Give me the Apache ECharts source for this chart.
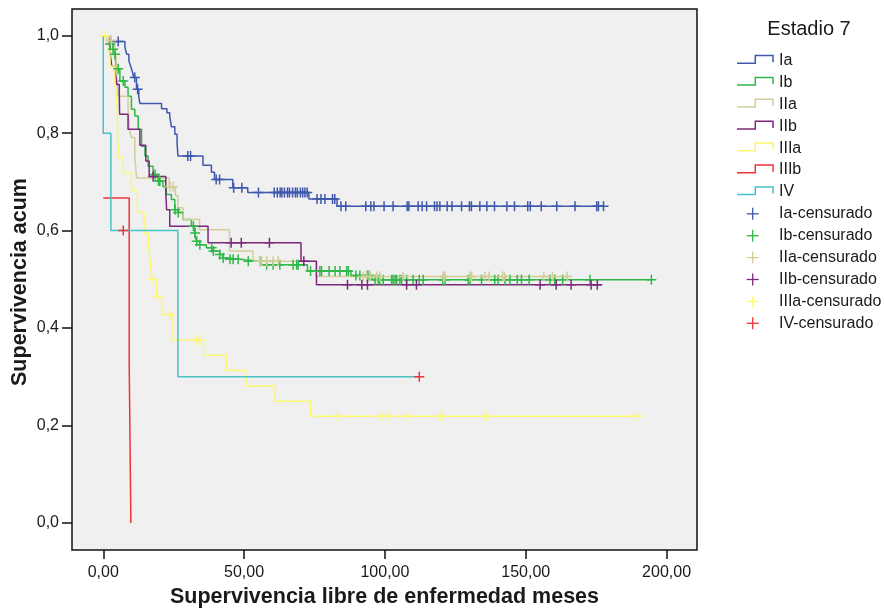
<!DOCTYPE html>
<html>
<head>
<meta charset="utf-8">
<title>Supervivencia libre de enfermedad por estadio</title>
<script src="https://cdn.jsdelivr.net/npm/echarts@6/dist/echarts.min.js"></script>
<style>
  html, body { margin: 0; padding: 0; background: #ffffff; }
  #chart { width: 885px; height: 616px; }
</style>
</head>
<body>
<div id="chart"></div>
<script>
// Kaplan-Meier curves, one per stage: [time in months, cumulative survival after the event]
const stages = ['Ia', 'Ib', 'IIa', 'IIb', 'IIIa', 'IIIb', 'IV'];

const iaSteps = [[0, 1], [2.5, 0.988], [7.7, 0.976], [8.3, 0.962], [9.1, 0.948], [9.7, 0.938],
  [10.4, 0.925], [10.8, 0.914], [11.8, 0.89], [12.6, 0.876], [13, 0.861], [20.7, 0.85],
  [22.6, 0.842], [23.6, 0.834], [24.2, 0.813], [25.4, 0.798], [26.2, 0.78], [26.5, 0.753],
  [35.4, 0.734], [38.4, 0.72], [39.5, 0.705], [46, 0.688], [51.3, 0.678], [73, 0.665], [83, 0.65]];
const iaEnd = 177.6;
const iaCensored = [5.3, 11.2, 12.2, 30, 31, 40.1, 41.3, 46.3, 49.2, 55.1, 60.7, 61.8, 62.8, 63.4,
  64.3, 65.4, 66.1, 67.2, 68.2, 68.9, 70, 70.8, 71.6, 72.4, 75.9, 77.3, 78.7, 81.4, 82.2, 84.4,
  86.1, 93.2, 95, 96.1, 99.7, 102.9, 107.9, 108.5, 111.8, 113.2, 114.8, 117.6, 118.5, 119.5,
  122.1, 123.8, 127.2, 130, 130.7, 133.7, 136.2, 138.9, 143.3, 146, 150.7, 151.6, 155.5, 161,
  167.5, 175.2, 175.8, 177.6];

const ibSteps = [[0, 1], [2.4, 0.983], [3.5, 0.972], [4.1, 0.962], [4.7, 0.932], [5.9, 0.907],
  [7.7, 0.894], [8.8, 0.876], [10, 0.849], [11.2, 0.835], [12.4, 0.808], [13.6, 0.773],
  [14.8, 0.753], [15.9, 0.732], [17.7, 0.715], [19.5, 0.702], [21.2, 0.69], [22.4, 0.674],
  [24.2, 0.664], [25.4, 0.643], [26.5, 0.637], [28.3, 0.623], [31.3, 0.609], [32.4, 0.595],
  [33, 0.578], [34.2, 0.571], [36.6, 0.565], [38.9, 0.558], [41.3, 0.551], [42.5, 0.544],
  [44.8, 0.541], [48.4, 0.537], [56, 0.53], [72.5, 0.517], [87.9, 0.508], [95.5, 0.499]];
const ibEnd = 194.6;
const ibCensored = [2.4, 3.5, 4.2, 5.3, 7.1, 18.4, 19.6, 20.1, 25.5, 26.6, 32, 32.6, 33.2, 34.3,
  38.5, 39.1, 41.4, 42.6, 45, 46.1, 47.9, 51.5, 55.6, 58, 60.3, 62.7, 67.4, 68.7, 69.2, 73.6,
  76.9, 77.5, 80.2, 82.3, 84, 86.4, 87, 89.7, 91.1, 93.7, 94.4, 96.5, 97.6, 98.2, 99.4, 102.4,
  102.9, 103.6, 104.2, 105.3, 105.9, 107.7, 110, 112.2, 113.6, 120.5, 121.3, 129.6, 130.2,
  134.3, 139, 140.2, 142.6, 144.4, 147, 148.5, 151.2, 158.6, 160.3, 163.1, 172.8, 194.6];

const iiaSteps = [[0, 1], [2.5, 0.99], [4.1, 0.983], [4.6, 0.95], [5, 0.9], [5.3, 0.876],
  [8.8, 0.849], [9.4, 0.804], [10, 0.791], [11.2, 0.753], [11.8, 0.708], [23.4, 0.69],
  [25.6, 0.672], [26.5, 0.647], [28.3, 0.623], [34.2, 0.602], [44.8, 0.558], [53.1, 0.537],
  [75.5, 0.506]];
const iiaEnd = 165.7;
const iiaCensored = [2.8, 23.7, 24.8, 55.6, 56.2, 58, 60.3, 62.1, 92.3, 93.5, 94.7, 97.1, 98.2,
  106.5, 120.7, 121.3, 130.2, 130.8, 135.5, 137, 141.8, 142.4, 156.4, 159.5, 164.7];

const iibSteps = [[0, 1], [1.5, 0.982], [2.4, 0.965], [3, 0.938], [4.1, 0.931], [4.8, 0.9],
  [5.7, 0.876], [5.8, 0.839], [8.8, 0.808], [13, 0.775], [15.1, 0.743], [16.3, 0.711],
  [22.2, 0.677], [22.5, 0.643], [23.6, 0.609], [37.2, 0.575], [70.2, 0.537], [75.7, 0.489]];
const iibEnd = 176.9;
const iibCensored = [17.7, 45.4, 49, 59, 71.2, 86.7, 91.8, 93.8, 107.7, 111.2, 155.1, 160.8,
  166.1, 173.2, 175.4];

const iiiaSteps = [[0, 1], [1.5, 0.969], [2.4, 0.938], [4.1, 0.906], [4.7, 0.875], [5, 0.844],
  [5.1, 0.813], [5.2, 0.781], [5.3, 0.75], [7.1, 0.719], [10, 0.683], [12.1, 0.637],
  [14.5, 0.594], [16.1, 0.566], [16.8, 0.53], [17.3, 0.5], [18.9, 0.465], [20.8, 0.428],
  [24.4, 0.375], [35.6, 0.344], [43.7, 0.313], [50.7, 0.281], [61, 0.25], [73.6, 0.219]];
const iiiaEnd = 190.9;
const iiiaCensored = [0.6, 17.7, 19.2, 23.6, 33, 34.2, 83.2, 98.9, 101.5, 107.4, 119.7, 136, 189.6];

const iiibSteps = [[0, 0.667], [9.2, 0.333], [9.8, 0]];
const iiibEnd = null;
const iiibCensored = [];

const ivSteps = [[0, 1], [0, 0.8], [2.7, 0.6], [26.5, 0.3]];
const ivEnd = 112.2;
const ivCensored = [7.1, 112.2];

// Axis ticks
const xTicks = [0, 50, 100, 150, 200];
const yTicks = [0, 0.2, 0.4, 0.6, 0.8, 1.0];

// Titles and legend labels
const xTitle = 'Supervivencia libre de enfermedad meses';
const yTitle = 'Supervivencia acum';
const legendTitle = 'Estadio 7';
const censoredLabels = ['Ia-censurado', 'Ib-censurado', 'IIa-censurado', 'IIb-censurado',
  'IIIa-censurado', 'IV-censurado'];

// ---- styling ----
const lineColors = ['#3E58AC', '#2EB848', '#D3CE97', '#7C287D', '#FBF873', '#EF3338', '#48C2C5'];
const censorColors = ['#3E58AC', '#2EB848', '#D3CE97', '#7C287D', '#FBF873', '#EF3338'];
const FONT = '"Liberation Sans", Arial, sans-serif';

const curves = [
  { steps: iaSteps, end: iaEnd, cens: iaCensored },
  { steps: ibSteps, end: ibEnd, cens: ibCensored },
  { steps: iiaSteps, end: iiaEnd, cens: iiaCensored },
  { steps: iibSteps, end: iibEnd, cens: iibCensored },
  { steps: iiiaSteps, end: iiiaEnd, cens: iiiaCensored },
  { steps: iiibSteps, end: iiibEnd, cens: iiibCensored },
  { steps: ivSteps, end: ivEnd, cens: ivCensored }
];
// censored groups in legend order -> curve index
const censoredCurve = [0, 1, 2, 3, 4, 6];

function survivalAt(steps, t) {
  let s = steps[0][1];
  for (const p of steps) { if (p[0] <= t) s = p[1]; else break; }
  return s;
}

const plusSymbol = 'path://M0,4.25H10V5.75H0Z M4.25,0H5.75V10H4.25Z';

const series = [];
curves.forEach((c, i) => {
  const data = c.steps.slice();
  if (c.end !== null) data.push([c.end, c.steps[c.steps.length - 1][1]]);
  series.push({
    name: stages[i], type: 'line', step: 'end', data: data,
    showSymbol: false, symbol: 'none', animation: false, silent: true,
    lineStyle: { color: lineColors[i], width: 1.5 }, z: 2 + i * 0.01
  });
});
censoredCurve.forEach((ci, k) => {
  const c = curves[ci];
  series.push({
    name: censoredLabels[k], type: 'scatter', animation: false, silent: true,
    symbol: plusSymbol, symbolSize: 10,
    itemStyle: { color: censorColors[k], opacity: 1 },
    data: c.cens.map(t => [t, survivalAt(c.steps, t)]), z: 3
  });
});

// Legend and vertical axis title drawn as graphics
const graphics = [];
graphics.push({
  type: 'text', x: 20, y: 282, rotation: Math.PI / 2, silent: true,
  style: { text: yTitle, font: 'bold 21.5px ' + FONT, fill: '#1a1a1a', textAlign: 'center', textVerticalAlign: 'middle' }
});
const legX = 737, legTextX = 779, legY0 = 60.5, legGap = 21.9;
graphics.push({
  type: 'text', x: 809, y: 29.5, silent: true,
  style: { text: legendTitle, font: '20px ' + FONT, fill: '#1a1a1a', textAlign: 'center', textVerticalAlign: 'middle' }
});
stages.forEach((s, i) => {
  const yc = legY0 + i * legGap;
  graphics.push({
    type: 'polyline', silent: true,
    shape: { points: [[legX, yc + 2.7], [legX + 18.3, yc + 2.7], [legX + 18.3, yc - 5], [legX + 36, yc - 5], [legX + 36, yc + 1.7]] },
    style: { stroke: lineColors[i], lineWidth: 1.5, fill: null }
  });
  graphics.push({
    type: 'text', x: legTextX, y: yc, silent: true,
    style: { text: s, font: '16px ' + FONT, fill: '#1a1a1a', textAlign: 'left', textVerticalAlign: 'middle' }
  });
});
censoredLabels.forEach((s, k) => {
  const yc = legY0 + (stages.length + k) * legGap;
  const cx = 752.7;
  graphics.push({ type: 'line', silent: true, shape: { x1: cx - 6, y1: yc, x2: cx + 6, y2: yc }, style: { stroke: censorColors[k], lineWidth: 1.3 } });
  graphics.push({ type: 'line', silent: true, shape: { x1: cx, y1: yc - 6, x2: cx, y2: yc + 6 }, style: { stroke: censorColors[k], lineWidth: 1.3 } });
  graphics.push({
    type: 'text', x: legTextX, y: yc, silent: true,
    style: { text: s, font: '16px ' + FONT, fill: '#1a1a1a', textAlign: 'left', textVerticalAlign: 'middle' }
  });
});

const chart = echarts.init(document.getElementById('chart'), null, { renderer: 'canvas' });
chart.setOption({
  animation: false,
  backgroundColor: '#ffffff',
  grid: {
    left: 72, top: 9, width: 625, height: 541, containLabel: false, outerBoundsMode: 'none',
    show: true, backgroundColor: '#f0f0f0', borderColor: '#111', borderWidth: 1.5
  },
  xAxis: {
    type: 'value', min: -11.1, max: 210.8,
    name: xTitle, nameLocation: 'middle', nameGap: 34,
    nameTextStyle: { fontFamily: FONT, fontWeight: 'bold', fontSize: 21.5, color: '#1a1a1a' },
    axisLine: { show: false, onZero: false },
    splitLine: { show: false },
    axisTick: { show: true, inside: false, customValues: xTicks, length: 9, lineStyle: { color: '#111', width: 1.5 } },
    axisLabel: {
      customValues: xTicks, margin: 15, fontFamily: FONT, fontSize: 16, color: '#1a1a1a',
      formatter: v => v.toFixed(2).replace('.', ',')
    }
  },
  yAxis: {
    type: 'value', min: -0.0554, max: 1.0548,
    axisLine: { show: false, onZero: false },
    splitLine: { show: false },
    axisTick: { show: true, inside: false, customValues: yTicks, length: 10, lineStyle: { color: '#111', width: 1.5 } },
    axisLabel: {
      customValues: yTicks, margin: 13, fontFamily: FONT, fontSize: 16, color: '#1a1a1a',
      formatter: v => v.toFixed(1).replace('.', ',')
    }
  },
  series: series,
  graphic: graphics
});
</script>
</body>
</html>
